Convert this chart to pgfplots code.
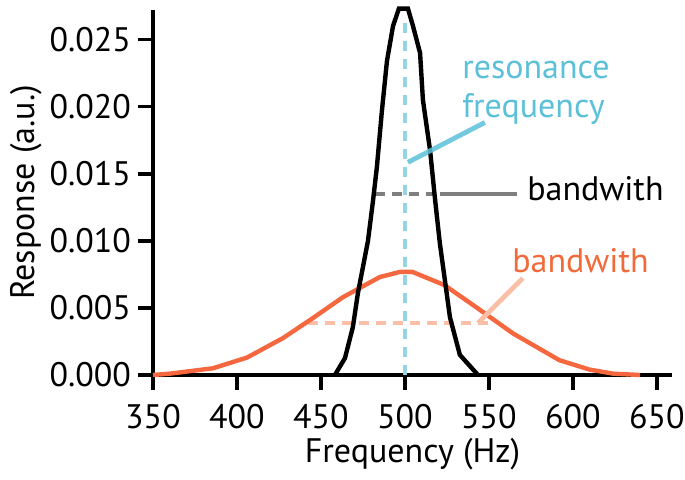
\documentclass[border=0pt]{standalone}
\usepackage{pgfplots}
\pgfplotsset{compat=1.18}
\usepackage{fontspec}
\setmainfont{PT Sans}
\definecolor{curveO}{HTML}{F4673F}
\definecolor{textO}{HTML}{F26A3A}
\definecolor{dashO}{HTML}{FBBFA8}
\definecolor{textB}{HTML}{5BC0D8}
\definecolor{dashB}{HTML}{93D5E3}
\definecolor{greyL}{HTML}{7F7F7F}
\tikzset{myfont/.style={font=\fontsize{17}{20}\selectfont}}
\begin{document}
\begin{tikzpicture}
\begin{axis}[
  at={(0,0)}, anchor=south west,
  scale only axis, width=259.5pt, height=182.5pt,
  xmin=350, xmax=659, ymin=0, ymax=0.0272,
  axis x line=bottom, axis y line=left,
  axis line style={-, line width=2pt},
  tick align=outside, major tick length=7.5pt,
  tick style={line width=1.8pt, black},
  xtick={350,400,450,500,550,600,650},
  ytick={0,0.005,0.01,0.015,0.02,0.025},
  scaled y ticks=false,
  yticklabel style={/pgf/number format/fixed, /pgf/number format/fixed zerofill, /pgf/number format/precision=3},
  xticklabel style={yshift=-3.5pt},
  /pgf/number format/assume math mode=true,
  every tick label/.append style={myfont},
  xlabel={Frequency (Hz)}, ylabel={Response (a.u.)},
  xlabel style={myfont, at={(axis description cs:0.5,-0.241)}, anchor=base},
  ylabel style={myfont, at={(axis description cs:-0.245,0.5)}, anchor=center},
  clip=false,
]
% half-max dashed lines
\addplot[dashO, line width=2pt, dash pattern=on 5pt off 3.5pt] coordinates {(442,0.00387) (552,0.00387)};
\addplot[greyL, line width=2pt, dash pattern=on 5pt off 3.5pt] coordinates {(482,0.0135) (517,0.0135)};
% orange curve
\addplot[curveO, line width=2.2pt] coordinates {
(350,0) (360,0.0001) (385.7,0.0005) (406,0.0013) (427.4,0.00275) (445.2,0.00424)
(463.1,0.0058) (485.1,0.0073) (497,0.00768) (504.5,0.00768) (523.5,0.0067)
(543,0.0050) (564.3,0.0031) (592,0.0011) (610,0.0004) (624,0.0001) (640,0)};
% black curve
\addplot[black, line width=2.2pt] coordinates {
(458.3,0.0000) (464.3,0.00126) (469,0.00357) (472,0.0061) (478,0.0100) (481,0.0130)
(483.3,0.0155) (486.3,0.0197) (489.3,0.0234) (492.9,0.0260) (496.4,0.0273)
(501.8,0.0273) (504.8,0.0260) (509,0.0240) (510.7,0.0205) (515,0.0167) (518,0.0130)
(520.8,0.0098) (526.8,0.0043) (532.7,0.0015) (543.5,0.0000)};
% resonance dashed line
\addplot[dashB, line width=2pt, dash pattern=on 5pt off 4pt] coordinates {(500,0) (500,0.0267)};
% pointers
\draw[textB, line width=2.4pt, opacity=0.85] (axis cs:501.8,0.01585) -- (axis cs:547.6,0.01882);
\draw[greyL, line width=2pt] (axis cs:520.8,0.0135) -- (axis cs:566.7,0.0135);
\draw[dashO, line width=2.4pt] (axis cs:543.5,0.00387) -- (axis cs:570.2,0.00722);
% texts
\node[textB, myfont, anchor=base west, inner sep=0pt] at (axis cs:533.9,0.0221) {resonance};
\node[textB, myfont, anchor=base west, inner sep=0pt] at (axis cs:533.9,0.0192) {frequency};
\node[black, myfont, anchor=base west, inner sep=0pt] at (axis cs:572.6,0.01302) {bandwith};
\node[textO, myfont, anchor=base west, inner sep=0pt] at (axis cs:563.7,0.00766) {bandwith};
\end{axis}
\pgfresetboundingbox
\path[use as bounding box] (-76.5pt,-52.5pt) rectangle (266pt,187.5pt);
\end{tikzpicture}
\end{document}
